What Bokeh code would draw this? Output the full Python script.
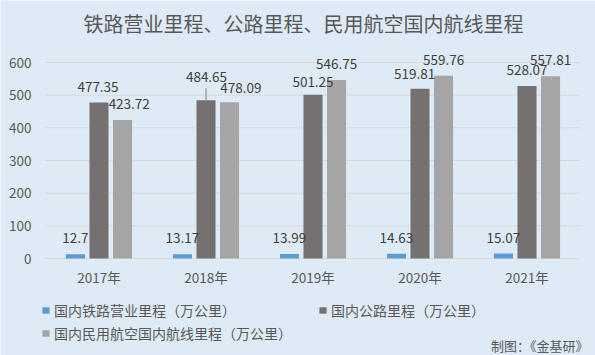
from bokeh.plotting import figure
from bokeh.models import Range1d, Legend, LegendItem
from bokeh.core.properties import value
from bokeh.embed import file_html
from bokeh.resources import INLINE

# ---- data ----
years = ["2017年", "2018年", "2019年", "2020年", "2021年"]
rail = [12.7, 13.17, 13.99, 14.63, 15.07]
road = [477.35, 484.65, 501.25, 519.81, 528.07]
air = [423.72, 478.09, 546.75, 559.76, 557.81]
series_names = ["国内铁路营业里程（万公里）", "国内公路里程（万公里）", "国内民用航空国内航线里程（万公里）"]
y_ticks = [0, 100, 200, 300, 400, 500, 600]
title_text = "铁路营业里程、公路里程、民用航空国内航线里程"
source_text = "制图：《金基研》"

# ---- label nudges (pixels, dx right / dy up) ----
rail_dx = [0, 0, 0, 0, 0]
rail_dy = [16, 16, 16, 16, 16]
road_dx = [-1, 0.5, 0, -5.3, 0]
road_dy = [15.8, 22.9, 13, 14.5, 16.3]
air_dx = [6.7, 11.3, 0, 0, 0]
air_dy = [15.6, 14.5, 15.7, 15.8, 16.5]

FONT = "Noto Sans CJK SC"
BG = "#DEEBF7"
C_RAIL = "#5B9BD5"
C_ROAD = "#767171"
C_AIR = "#A5A5A5"
TXT = "#595959"
LBL = "#404040"
GRID = "#D9D9D9"

# ---- layout (pixels) ----
W, H = 595, 355
PL, PR, PT, PB = 45, 580, 62, 258       # plot area
n = len(years)
cat_px = (PR - PL) / n
ymax = y_ticks[-1]
ppu = (PB - PT) / ymax

x_start = -PL / cat_px
x_end = n + (W - PR) / cat_px
y_start = -(H - PB) / ppu
y_end = ymax + PT / ppu

def dx_(px):
    return (px - PL) / cat_px

def dy_(py):
    return (PB - py) / ppu

p = figure(width=W, height=H, x_range=Range1d(x_start, x_end), y_range=Range1d(y_start, y_end),
           output_backend="svg", toolbar_location=None,
           x_axis_location=None, y_axis_location=None, min_border=0)
p.background_fill_color = BG
p.border_fill_color = BG
p.outline_line_color = None
p.xgrid.visible = False
p.ygrid.visible = False

# gridlines across the plot area
p.segment(x0=[0] * len(y_ticks), x1=[n] * len(y_ticks), y0=y_ticks, y1=y_ticks,
          line_color=GRID, line_width=1)

centers = [i + 0.5 for i in range(n)]
OFF = 0.22
BW = 0.178
r1 = p.vbar(x=[c - OFF for c in centers], top=rail, width=BW, fill_color=C_RAIL, line_color=None)
r2 = p.vbar(x=centers, top=road, width=BW, fill_color=C_ROAD, line_color=None)
r3 = p.vbar(x=[c + OFF for c in centers], top=air, width=BW, fill_color=C_AIR, line_color=None)

# leader line for 2018 road label
i18 = years.index("2018年")
p.segment(x0=[centers[i18]], y0=[road[i18]], x1=[centers[i18]], y1=[road[i18] + 12 / ppu],
          line_color="#7F7F7F", line_width=1)

# data labels
for vals, off, dxs, dys in ((rail, -OFF, rail_dx, rail_dy), (road, 0, road_dx, road_dy),
                            (air, OFF, air_dx, air_dy)):
    p.text(x=[c + off for c in centers], y=vals, text=[str(v) for v in vals],
           x_offset=dxs, y_offset=[-d for d in dys],
           text_align="center", text_baseline="middle",
           text_font=value(FONT), text_font_size="13.5px", text_color=LBL)

# y tick labels
p.text(x=[0] * len(y_ticks), y=y_ticks, text=[str(t) for t in y_ticks], x_offset=-14,
       text_align="right", text_baseline="middle",
       text_font=value(FONT), text_font_size="13.5px", text_color=TXT)

# category labels
p.text(x=centers, y=[0] * n, text=years, y_offset=18,
       text_align="center", text_baseline="middle",
       text_font=value(FONT), text_font_size="13.5px", text_color=TXT)

# title
p.text(x=[dx_(83)], y=[dy_(23)], text=[title_text], text_align="left", text_baseline="middle",
       text_font=value(FONT), text_font_size="20px", text_color=TXT)

# source note
p.text(x=[dx_(588)], y=[dy_(345)], text=[source_text], text_align="right", text_baseline="middle",
       text_font=value(FONT), text_font_size="13px", text_color=TXT)

# legends
def mk_legend(name, rend, loc):
    lg = Legend(items=[LegendItem(label=name, renderers=[rend])], location=loc,
                orientation="horizontal", padding=0, margin=0, spacing=0,
                border_line_color=None, background_fill_alpha=0,
                glyph_width=9, glyph_height=8, label_standoff=4, label_height=20,
                label_text_font=FONT, label_text_font_size="14px", label_text_color=TXT)
    p.add_layout(lg)

mk_legend(series_names[0], r1, (41, H - 320))
mk_legend(series_names[1], r2, (318, H - 320))
mk_legend(series_names[2], r3, (41, H - 342.5))

open("out.html", "w").write(file_html(p, INLINE))
